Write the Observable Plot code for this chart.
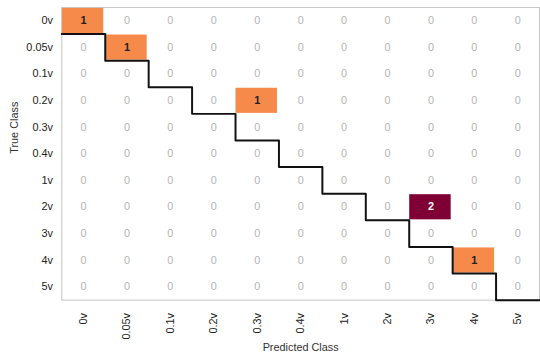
<!DOCTYPE html>
<html>
<head>
<meta charset="utf-8">
<script src="https://cdn.jsdelivr.net/npm/d3@7"></script>
<script src="https://cdn.jsdelivr.net/npm/@observablehq/plot@0.6"></script>
<style>
  html, body { margin: 0; padding: 0; background: #fff; }
  #chart { width: 540px; height: 357px; overflow: hidden; }
  #chart svg { font-family: "Liberation Sans", Arial, sans-serif; }
</style>
</head>
<body>
<div id="chart"></div>
<script>
// Class labels (same order on both axes)
const classes = ["0v", "0.05v", "0.1v", "0.2v", "0.3v", "0.4v", "1v", "2v", "3v", "4v", "5v"];

// Non-zero entries of the confusion matrix: [true class, predicted class, count]
const hits = [
  ["0v", "0v", 1],
  ["0.05v", "0.05v", 1],
  ["0.2v", "0.3v", 1],
  ["2v", "3v", 2],
  ["4v", "4v", 1]
];

// Full matrix as a flat table
const cells = [];
classes.forEach((t, row) => {
  classes.forEach((p, col) => {
    const h = hits.find(d => d[0] === t && d[1] === p);
    cells.push({row, col, truth: t, pred: p, value: h ? h[2] : 0});
  });
});

// Staircase along the lower-right edge of the diagonal
const stairs = [{x: 0, y: 1}];
classes.forEach((_, i) => {
  stairs.push({x: i + 1, y: i + 1});
  stairs.push({x: i + 1, y: Math.min(i + 2, classes.length)});
});

const n = classes.length;
const centers = classes.map((_, i) => i + 0.5);

const chart = Plot.plot({
  width: 546,
  height: 357,
  marginLeft: 62,
  marginRight: 1,
  marginTop: 7,
  marginBottom: 54,
  style: {fontSize: "11px", fontFamily: "Liberation Sans, Arial, sans-serif"},
  x: {domain: [0, n], axis: null},
  y: {domain: [0, n], reverse: true, axis: null},
  color: {type: "ordinal", domain: [1, 2], range: ["#f68a4b", "#7f0034"]},
  marks: [
    Plot.frame({stroke: "#c4c4c4"}),
    Plot.rect(cells.filter(d => d.value > 0), {
      x1: "col", x2: d => d.col + 1, y1: "row", y2: d => d.row + 1,
      fill: "value", insetTop: 1, insetRight: 1.5, insetLeft: 0.5, insetBottom: 0.5
    }),
    Plot.text(cells.filter(d => d.value === 0), {
      x: d => d.col + 0.5, y: d => d.row + 0.5, text: "value", fill: "#b4b4b4"
    }),
    Plot.text(cells.filter(d => d.value === 1), {
      x: d => d.col + 0.5, y: d => d.row + 0.5, text: "value", fill: "#222", fontWeight: "bold"
    }),
    Plot.text(cells.filter(d => d.value > 1), {
      x: d => d.col + 0.5, y: d => d.row + 0.5, text: "value", fill: "#fff", fontWeight: "bold"
    }),
    Plot.line(stairs, {x: "x", y: "y", stroke: "#111", strokeWidth: 2}),
    Plot.axisX({
      ticks: centers, tickFormat: v => classes[Math.floor(v)],
      tickRotate: -90, tickSize: 0, tickPadding: 13, label: null, fill: "#222"
    }),
    Plot.axisY({
      ticks: centers, tickFormat: v => classes[Math.floor(v)],
      tickSize: 0, tickPadding: 9, label: null, fill: "#222"
    }),
    Plot.text(["Predicted Class"], {frameAnchor: "bottom", dy: 51, fill: "#333"}),
    Plot.text(["True Class"], {frameAnchor: "left", dx: -48, rotate: -90, fill: "#333"})
  ]
});

document.getElementById("chart").appendChild(chart);
</script>
</body>
</html>
